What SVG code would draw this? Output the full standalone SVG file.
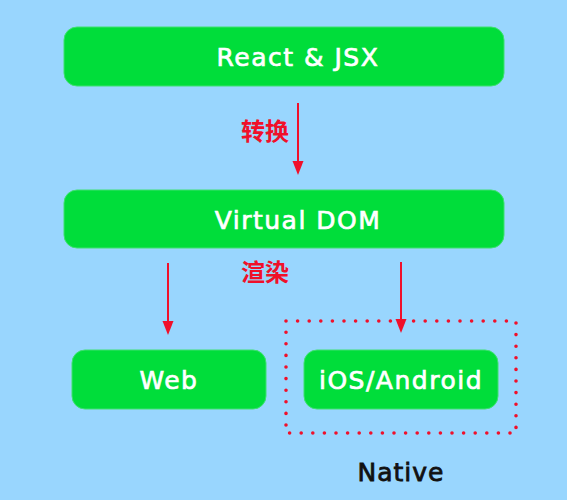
<svg xmlns="http://www.w3.org/2000/svg" width="567" height="500" viewBox="0 0 567 500">
<defs>
<style>
.box{fill:#00dd3a;stroke:#3ee070;stroke-width:1}
.lbl{font-family:"DejaVu Sans",sans-serif;font-size:25px;fill:#fff;stroke:#fff;stroke-width:0.7;text-anchor:middle;letter-spacing:1.5px}
.cn{font-family:"Noto Sans CJK SC",sans-serif;font-size:24px;font-weight:bold;fill:#f0102a;text-anchor:middle}
.arr{stroke:#f0102a;stroke-width:2;fill:none}
.head{fill:#f0102a}
</style>
</defs>
<rect width="567" height="500" fill="#99d6fe"/>
<g id="react"><rect class="box" x="64" y="27" width="440" height="59" rx="13"/><text class="lbl" x="298" y="66">React &amp; JSX</text></g>
<g id="vdom"><rect class="box" x="64" y="190" width="440" height="58" rx="13"/><text class="lbl" x="298" y="229">Virtual DOM</text></g>
<g id="web"><rect class="box" x="72" y="350" width="194" height="59" rx="13"/><text class="lbl" x="169" y="389">Web</text></g>
<g id="native"><rect x="286" y="321" width="230" height="112" fill="none" stroke="#f0102a" stroke-width="3.6" stroke-linecap="round" stroke-dasharray="0 11.6"/><rect class="box" x="304" y="350" width="194" height="59" rx="13"/><text class="lbl" x="401" y="389">iOS/Android</text><text x="401" y="481" font-family="DejaVu Sans,sans-serif" font-size="25" fill="#111" stroke="#111" stroke-width="0.8" text-anchor="middle" letter-spacing="1">Native</text></g>
<g id="connectors">
<line class="arr" x1="298" y1="103" x2="298" y2="162"/><path class="head" d="M292.5,161 L303.5,161 L298,175 Z"/>
<line class="arr" x1="168" y1="263" x2="168" y2="322"/><path class="head" d="M162.5,321 L173.5,321 L168,335 Z"/>
<line class="arr" x1="401" y1="262" x2="401" y2="320"/><path class="head" d="M395.5,319 L406.5,319 L401,333 Z"/>
<text class="cn" x="265" y="140">转换</text>
<text class="cn" x="265" y="281">渲染</text>
</g>
</svg>
